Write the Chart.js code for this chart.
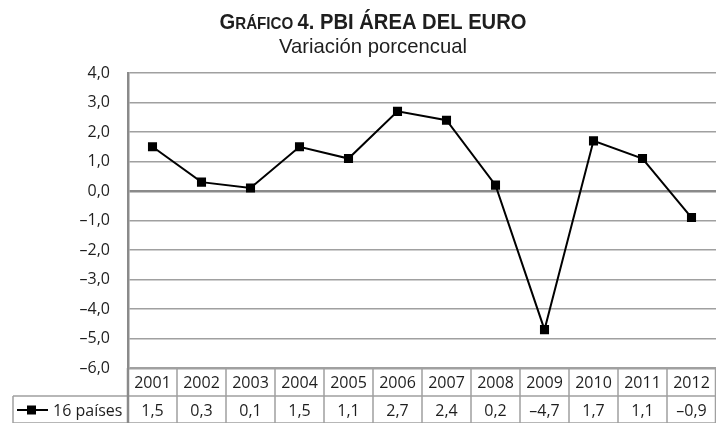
<!DOCTYPE html>
<html>
<head>
<meta charset="utf-8">
<script src="https://cdn.jsdelivr.net/npm/chart.js@4"></script>
<style>
  html, body { margin: 0; padding: 0; background: #fff; overflow: hidden; }
  #wrap { width: 716px; height: 423px; position: relative; }
</style>
</head>
<body>
<div id="wrap"><canvas id="chart"></canvas></div>
<script>
// Data
const years = ["2001", "2002", "2003", "2004", "2005", "2006", "2007", "2008", "2009", "2010", "2011", "2012"];
const pbi16 = [1.5, 0.3, 0.1, 1.5, 1.1, 2.7, 2.4, 0.2, -4.7, 1.7, 1.1, -0.9];
const seriesName = "16 países";
const titleMain = "4. PBI ÁREA DEL EURO";
const titleSub = "Variación porcencual";

const fontBody = "'Open Sans', 'Noto Sans', sans-serif";
const fontCond = "'Liberation Sans', 'Roboto', sans-serif";
const gridGrey = "#a0a0a0";
const textCol = "#1e1e1e";

function fmt(v) {
    return v.toFixed(1).replace(".", ",").replace("-", "\u2013");
}

// Title drawn above the plot, squeezed horizontally to look condensed
const titlePlugin = {
    id: "titles",
    afterDraw(chart) {
        const ctx = chart.ctx;
        const cx = 373;
        const titleW = 307;
        const subW = 188;
        ctx.save();
        ctx.fillStyle = textCol;
        ctx.textBaseline = "alphabetic";
        ctx.textAlign = "left";
        const bigFont = "bold 22px " + fontCond;
        const smallFont = "bold 16.5px " + fontCond;
        ctx.font = bigFont;
        const wG = ctx.measureText("G").width;
        const wMain = ctx.measureText(titleMain).width;
        ctx.font = smallFont;
        const wRest = ctx.measureText("RÁFICO ").width;
        const total = wG + wRest + wMain;
        ctx.translate(cx - titleW / 2, 29);
        ctx.scale(titleW / total, 1);
        let x = 0;
        ctx.font = bigFont;
        ctx.fillText("G", x, 0);
        x += wG;
        ctx.font = smallFont;
        ctx.fillText("RÁFICO ", x, 0);
        x += wRest;
        ctx.font = bigFont;
        ctx.fillText(titleMain, x, 0);
        ctx.restore();

        ctx.save();
        ctx.fillStyle = textCol;
        ctx.font = "21px " + fontCond;
        const wSub = ctx.measureText(titleSub).width;
        ctx.translate(cx - subW / 2, 53);
        ctx.scale(subW / wSub, 1);
        ctx.textAlign = "left";
        ctx.fillText(titleSub, 0, 0);
        ctx.restore();
    }
};

// Data table under the plot, aligned on the x scale
const tablePlugin = {
    id: "dataTable",
    afterDraw(chart) {
        const ctx = chart.ctx;
        const xs = chart.scales.x;
        const area = chart.chartArea;
        const colW = (area.right - area.left) / years.length;
        const top = area.bottom;
        const mid = top + 28;
        const bot = mid + 28;
        const labelLeft = 13;

        ctx.save();
        ctx.strokeStyle = gridGrey;
        ctx.lineWidth = 1.5;
        ctx.beginPath();
        ctx.moveTo(labelLeft, mid); ctx.lineTo(area.right, mid);
        ctx.moveTo(labelLeft, bot - 1); ctx.lineTo(area.right, bot - 1);
        ctx.moveTo(labelLeft, mid); ctx.lineTo(labelLeft, bot);
        for (let i = 1; i <= years.length; i++) {
            const px = i < years.length ? xs.getPixelForValue(i) - colW / 2 : area.right - 0.5;
            ctx.moveTo(px, top); ctx.lineTo(px, bot);
        }
        ctx.stroke();
        // left edge of the header row continues the y axis
        ctx.strokeStyle = "#8a8a8a";
        ctx.lineWidth = 2.5;
        ctx.beginPath();
        ctx.moveTo(area.left, top); ctx.lineTo(area.left, bot);
        ctx.stroke();

        ctx.fillStyle = textCol;
        ctx.font = "16px " + fontBody;
        ctx.textAlign = "center";
        ctx.textBaseline = "middle";
        years.forEach((y, i) => {
            const px = xs.getPixelForValue(i);
            ctx.fillText(y, px, (top + mid) / 2 + 1);
            ctx.fillText(fmt(pbi16[i]), px, (mid + bot) / 2 + 1);
        });

        // legend key inside the label cell
        const ly = (mid + bot) / 2;
        ctx.strokeStyle = "#000";
        ctx.lineWidth = 2;
        ctx.beginPath();
        ctx.moveTo(17, ly); ctx.lineTo(48, ly);
        ctx.stroke();
        ctx.fillStyle = "#000";
        ctx.fillRect(27, ly - 4.5, 9, 9);
        ctx.fillStyle = textCol;
        ctx.textAlign = "left";
        ctx.fillText(seriesName, 53, ly + 1);
        ctx.restore();
    }
};

new Chart(document.getElementById("chart"), {
    type: "line",
    data: {
        labels: years,
        datasets: [{
            label: seriesName,
            data: pbi16,
            borderColor: "#000",
            backgroundColor: "#000",
            borderWidth: 2,
            pointStyle: "rect",
            pointRadius: 5,
            pointHoverRadius: 5,
            tension: 0
        }]
    },
    options: {
        responsive: true,
        maintainAspectRatio: false,
        animation: false,
        layout: { autoPadding: false, padding: { top: 73, bottom: 55, left: 0, right: 0 } },
        plugins: {
            legend: { display: false },
            title: { display: false },
            tooltip: { enabled: false }
        },
        scales: {
            x: {
                display: false,
                offset: true
            },
            y: {
                min: -6,
                max: 4,
                afterFit: s => { s.width = 128; },
                ticks: {
                    stepSize: 1,
                    padding: 18,
                    color: textCol,
                    font: { family: fontBody, size: 16 },
                    callback: v => fmt(v)
                },
                grid: {
                    drawTicks: false,
                    color: ctx => ctx.tick && ctx.tick.value === 0 ? "#8a8a8a" : gridGrey,
                    lineWidth: ctx => ctx.tick && (ctx.tick.value === 0 || ctx.tick.value === -6) ? 2.5 : 1.5
                },
                border: { color: "#8a8a8a", width: 2.5 }
            }
        }
    },
    plugins: [titlePlugin, tablePlugin]
});
</script>
</body>
</html>
